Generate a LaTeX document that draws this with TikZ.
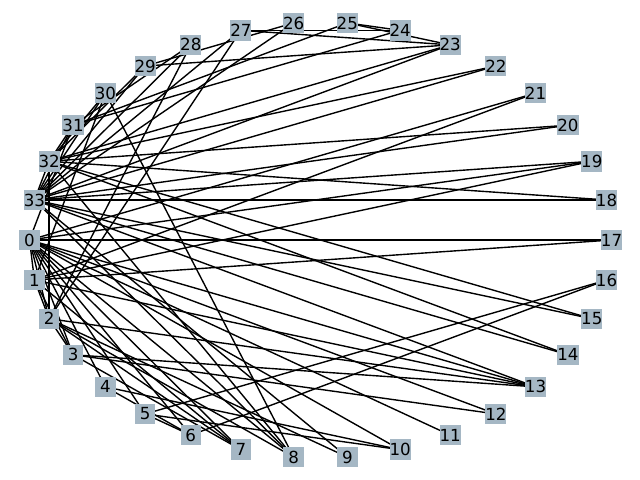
\documentclass[tikz,border=0pt]{standalone}
\usepackage{fontspec}
\setmainfont{DejaVu Sans}
\usetikzlibrary{backgrounds}
\definecolor{nodecol}{RGB}{165,183,196}
\tikzset{
  vbox/.style={fill=nodecol, draw=none, minimum width=20.5*0.72pt, minimum height=20.5*0.72pt, inner sep=0pt, font=\fontsize{12}{14}\selectfont},
  edge/.style={line width=1pt, black}
}
\begin{document}
\begin{tikzpicture}[x=0.72pt,y=-0.72pt]
\useasboundingbox (0,0) rectangle (640,480);
\foreach \k in {0,...,33} {
  \pgfmathsetmacro{\ang}{180+\k*360/34}
  \node[vbox] (n\k) at ({320.5+291*cos(\ang)},{240-218*sin(\ang)}) {\k};
}
\begin{scope}[on background layer]
\foreach \a/\b in {0/1,0/2,0/3,0/4,0/5,0/6,0/7,0/8,0/10,0/11,0/12,0/13,0/17,0/19,0/21,0/31,
1/2,1/3,1/7,1/13,1/17,1/19,1/21,1/30,
2/3,2/7,2/8,2/9,2/13,2/27,2/28,2/32,
3/7,3/12,3/13,
4/6,4/10,
5/6,5/10,5/16,
6/16,
8/30,8/32,8/33,
9/33,13/33,14/32,14/33,15/32,15/33,18/32,18/33,19/33,20/32,20/33,22/32,22/33,
23/25,23/27,23/29,23/32,23/33,
24/25,24/27,24/31,
25/31,26/29,26/33,27/33,28/31,28/33,29/32,29/33,30/32,30/33,31/32,31/33,32/33}
  \draw[edge] (n\a.center) -- (n\b.center);
\end{scope}
\end{tikzpicture}
\end{document}
